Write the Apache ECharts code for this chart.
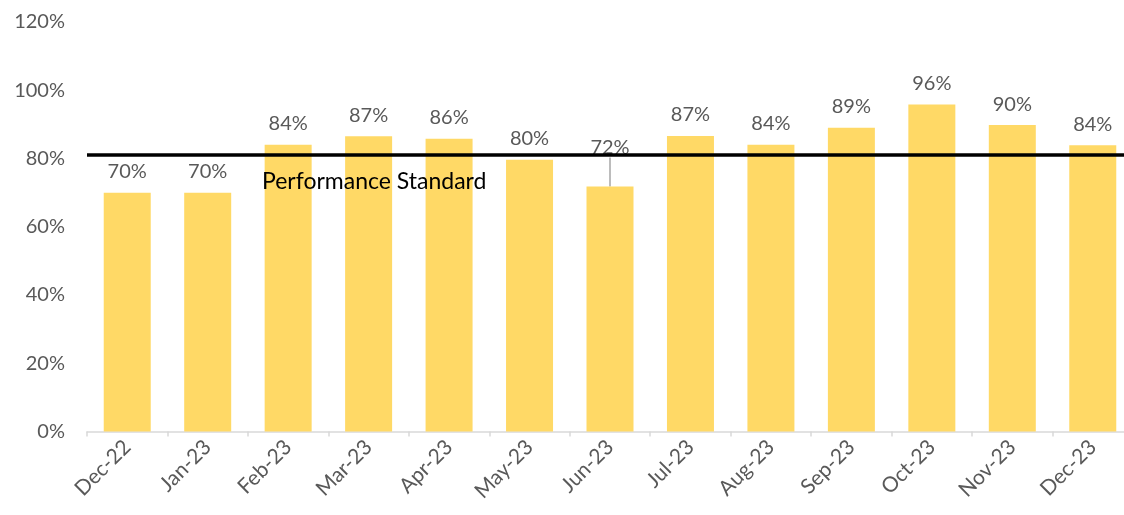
<!DOCTYPE html>
<html><head><meta charset="utf-8">
<script src="https://cdn.jsdelivr.net/npm/echarts@6/dist/echarts.min.js"></script>
<style>html,body{margin:0;padding:0;background:#fff;overflow:hidden}#c{width:1133px;height:515px}</style>
</head><body><div id="c"></div>
<script>
const categories = ['Dec-22','Jan-23','Feb-23','Mar-23','Apr-23','May-23','Jun-23','Jul-23','Aug-23','Sep-23','Oct-23','Nov-23','Dec-23'];
const values = [70, 70, 84, 86.5, 85.8, 79.6, 71.8, 86.6, 84, 89, 95.8, 89.8, 83.9];
const standard = 81;
const standardLabel = 'Performance Standard';
const yTicks = [0, 20, 40, 60, 80, 100, 120];
const movedLabelIndex = 6;

const FONT = 'Lato';
const chart = echarts.init(document.getElementById('c'));
chart.setOption({
  animation: false,
  textStyle: { fontFamily: FONT },
  grid: { left: 87, right: 0, top: 22, bottom: 83.5, containLabel: false },
  xAxis: {
    type: 'category', data: categories,
    axisLine: { lineStyle: { color: '#d9d9d9', width: 1.5 } },
    axisTick: { show: true, length: 5, lineStyle: { color: '#d9d9d9', width: 1.5 } },
    axisLabel: { rotate: 45, color: '#595959', fontSize: 21, fontFamily: FONT, margin: 12 }
  },
  yAxis: {
    type: 'value', min: yTicks[0], max: yTicks[yTicks.length - 1], interval: 20,
    splitLine: { show: false }, axisLine: { show: false }, axisTick: { show: false },
    axisLabel: { color: '#595959', fontSize: 20, fontFamily: FONT, margin: 22, formatter: v => v + '%' }
  },
  series: [{
    type: 'bar', z: 2,
    data: values.map((v, i) => i === movedLabelIndex
      ? { value: v, labelLine: { show: true, lineStyle: { color: '#a6a6a6', width: 1.5 } } }
      : { value: v, labelLine: { show: false } }),
    barWidth: 47,
    itemStyle: { color: '#FFD966' },
    label: { show: true, position: 'top', distance: 11, color: '#595959', fontSize: 20, fontFamily: FONT,
      formatter: p => Math.round(p.value) + '%' },
    labelLayout: p => p.dataIndex === movedLabelIndex ? { dy: -18 } : {},
    labelLine: { show: false },
    markLine: {
      silent: true, symbol: 'none',
      lineStyle: { color: '#000', width: 3.5, type: 'solid' },
      label: { show: false },
      data: [{ yAxis: standard }]
    }
  }],
  graphic: [{
    type: 'text', left: 262, top: 170, z: 100,
    style: { text: standardLabel, fill: '#000', fontSize: 23, fontFamily: FONT }
  }]
});
</script></body></html>
